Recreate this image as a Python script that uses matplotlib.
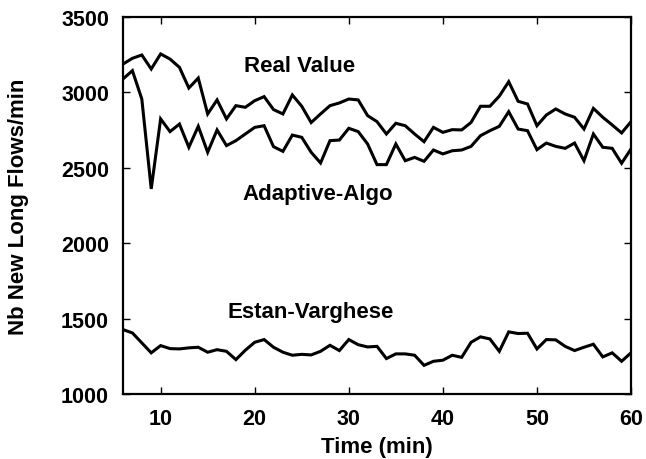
import matplotlib
matplotlib.use("Agg")
import matplotlib.pyplot as plt
import numpy as np

plt.rcParams['font.family'] = ['Liberation Sans', 'DejaVu Sans']
plt.rcParams['font.weight'] = 'bold'

time_min = list(range(6, 61))

real_value = [3188, 3226, 3248, 3155, 3255, 3221, 3166, 3029, 3095, 2857,
              2950, 2824, 2912, 2901, 2945, 2972, 2886, 2857, 2983, 2908,
              2800, 2857, 2912, 2930, 2956, 2950, 2846, 2806, 2724, 2795,
              2779, 2724, 2673, 2768, 2735, 2753, 2751, 2801, 2908, 2908,
              2975, 3071, 2941, 2923, 2779, 2850, 2890, 2857, 2835, 2757,
              2894, 2835, 2784, 2731, 2806]

adaptive_algo = [3089, 3144, 2956, 2360, 2824, 2740, 2790, 2636, 2775, 2603,
                 2751, 2647, 2680, 2724, 2768, 2779, 2640, 2609, 2717, 2702,
                 2603, 2532, 2680, 2684, 2762, 2740, 2658, 2521, 2521, 2658,
                 2547, 2569, 2543, 2618, 2592, 2613, 2618, 2642, 2713, 2746,
                 2775, 2872, 2757, 2746, 2620, 2664, 2642, 2629, 2664, 2547,
                 2724, 2636, 2629, 2530, 2625]

estan_varghese = [1427, 1405, 1339, 1273, 1321, 1301, 1299, 1306, 1310, 1277,
                  1294, 1283, 1228, 1290, 1343, 1361, 1310, 1277, 1257, 1263,
                  1259, 1283, 1323, 1288, 1361, 1327, 1312, 1316, 1235, 1266,
                  1266, 1257, 1190, 1217, 1224, 1257, 1243, 1343, 1379, 1365,
                  1283, 1412, 1401, 1403, 1299, 1361, 1359, 1316, 1288, 1310,
                  1330, 1246, 1273, 1217, 1273]

labels = ["Real Value", "Adaptive-Algo", "Estan-Varghese"]
x_ticks = [10, 20, 30, 40, 50, 60]
y_ticks = [1000, 1500, 2000, 2500, 3000, 3500]

fig = plt.figure(figsize=(6.46, 4.60), dpi=100)
ax = fig.add_axes([0.1904, 0.1413, 0.7864, 0.8196])

for series in (real_value, adaptive_algo, estan_varghese):
    ax.plot(time_min, series, color='black', linewidth=2.2, solid_joinstyle='miter')

ax.set_xlim(6, 60)
ax.set_ylim(1000, 3500)
ax.set_xticks(x_ticks)
ax.set_yticks(y_ticks)
ax.tick_params(direction='in', length=5, width=1.0, top=True, right=True,
               labelsize=15.5, pad=10)
for lbl in ax.get_xticklabels() + ax.get_yticklabels():
    lbl.set_fontweight('bold')
for s in ax.spines.values():
    s.set_linewidth(1.6)

ax.set_xlabel("Time (min)", fontsize=16, fontweight='bold', labelpad=5)
ax.set_ylabel("Nb New Long Flows/min", fontsize=16, fontweight='bold', labelpad=23)

ax.text(24.8, 3180, labels[0], fontsize=16, fontweight='bold', ha='center', va='center')
ax.text(26.7, 2330, labels[1], fontsize=16, fontweight='bold', ha='center', va='center')
ax.text(25.9, 1545, labels[2], fontsize=16, fontweight='bold', ha='center', va='center')

fig.savefig("out.png", dpi=100)
